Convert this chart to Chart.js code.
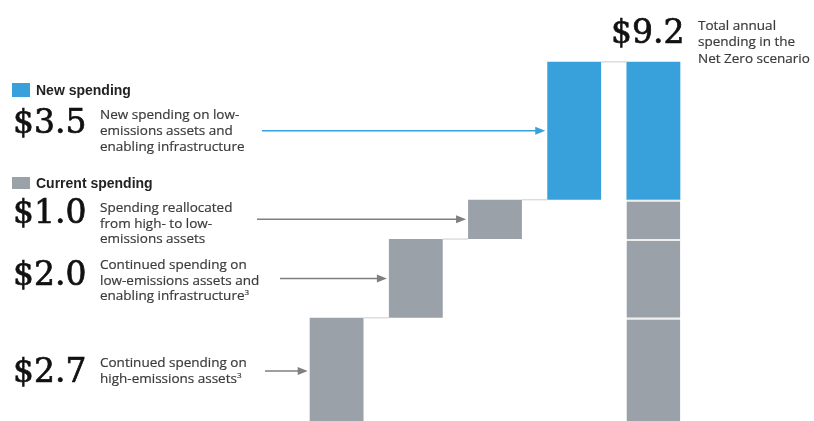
<!DOCTYPE html>
<html>
<head>
<meta charset="utf-8">
<script src="https://cdn.jsdelivr.net/npm/chart.js@4.4.1/dist/chart.umd.min.js"></script>
<style>
  html, body { margin: 0; padding: 0; background: #fff; }
  #wrap { position: relative; width: 814px; height: 421px; overflow: hidden; }
  #chart { position: absolute; left: 0; top: 0; }
  .big { position: absolute; font-family: "DejaVu Serif", serif; font-size: 33px; line-height: 32px; color: #111; white-space: nowrap; -webkit-text-stroke: 0.7px #111; }
  .desc { position: absolute; font-family: "Open Sans", sans-serif; font-size: 13.5px; line-height: 16px; color: #3a3a3a; white-space: nowrap; -webkit-text-stroke: 0.2px #3a3a3a; }
  .leg { position: absolute; font-family: "Liberation Sans", Arial, sans-serif; font-weight: bold; font-size: 14px; line-height: 16px; color: #222; white-space: nowrap; }
  .sq { position: absolute; width: 18px; }
  sup { font-size: 8px; line-height: 0; vertical-align: 5px; }
</style>
</head>
<body>
<div id="wrap">
  <canvas id="chart" width="814" height="421"></canvas>

  <div class="sq" style="left:12px;top:83px;height:14px;background:#38a1db"></div>
  <div class="leg" style="left:36px;top:82px">New spending</div>
  <div class="big" style="left:13px;top:106px">$3.5</div>
  <div class="desc" style="left:100px;top:106px">New spending on low-<br>emissions assets and<br>enabling infrastructure</div>

  <div class="sq" style="left:12px;top:177px;height:12px;background:#9aa1a9"></div>
  <div class="leg" style="left:36px;top:175px">Current spending</div>
  <div class="big" style="left:13px;top:196px">$1.0</div>
  <div class="desc" style="left:100px;top:200px;line-height:15.5px">Spending reallocated<br>from high- to low-<br>emissions assets</div>

  <div class="big" style="left:13px;top:258px">$2.0</div>
  <div class="desc" style="left:100px;top:257px;line-height:15.5px">Continued spending on<br>low-emissions assets and<br>enabling infrastructure<sup>3</sup></div>

  <div class="big" style="left:13px;top:355px">$2.7</div>
  <div class="desc" style="left:100px;top:354px">Continued spending on<br>high-emissions assets<sup>3</sup></div>

  <div class="big" style="left:611px;top:16px">$9.2</div>
  <div class="desc" style="left:698px;top:17px;line-height:16.3px">Total annual<br>spending in the<br>Net Zero scenario</div>
</div>

<script>
// values in $ trillion
const categories = ['High-emissions (continued)', 'Low-emissions (continued)', 'Reallocated', 'New spending', 'Total'];
const amounts = [2.7, 2.0, 1.0, 3.5];
const total = 9.2;
const isNew = [false, false, false, true];

const blue = '#38a1db';
const gray = '#9aa1a9';

// running start / end for the waterfall
const starts = [];
const ends = [];
let run = 0;
amounts.forEach(a => {
  starts.push(run);
  run = Math.round((run + a) * 10) / 10;
  ends.push(run);
});

const stepData = amounts.map((a, i) => [starts[i], ends[i]]);
stepData.push(null);

const datasets = [{
  label: 'steps',
  data: stepData,
  backgroundColor: isNew.map(n => n ? blue : gray),
  borderWidth: 0
}];

// pieces of the total column, thin light line on top of each grey piece
amounts.forEach((a, i) => {
  const d = categories.map(() => null);
  d[4] = [starts[i], ends[i]];
  datasets.push({
    label: 'total ' + i,
    data: d,
    backgroundColor: isNew[i] ? blue : gray,
    borderColor: '#eeeeee',
    borderWidth: isNew[i] ? 0 : { top: 2, bottom: 0, left: 0, right: 0 },
    borderSkipped: false
  });
});

const arrowStart = [265, 280, 257, 262];

const extras = {
  id: 'extras',
  afterDatasetsDraw(chart) {
    const ctx = chart.ctx;
    const y = chart.scales.y;
    const bars = chart.getDatasetMeta(0).data;
    const totalBar = chart.getDatasetMeta(1).data[4];
    ctx.save();
    // connectors
    ctx.strokeStyle = '#dddddd';
    ctx.lineWidth = 1.5;
    for (let i = 0; i < amounts.length; i++) {
      const b = bars[i];
      const next = i < amounts.length - 1 ? bars[i + 1] : totalBar;
      const yy = y.getPixelForValue(ends[i]);
      ctx.beginPath();
      ctx.moveTo(b.x + b.width / 2, yy);
      ctx.lineTo(next.x - next.width / 2, yy);
      ctx.stroke();
    }
    // arrows
    for (let i = 0; i < amounts.length; i++) {
      const b = bars[i];
      const col = isNew[i] ? blue : '#7f7f7f';
      const yy = y.getPixelForValue((starts[i] + ends[i]) / 2);
      const x1 = b.x - b.width / 2 - 2;
      ctx.strokeStyle = col;
      ctx.fillStyle = col;
      ctx.lineWidth = 1.5;
      ctx.beginPath();
      ctx.moveTo(arrowStart[i], yy);
      ctx.lineTo(x1 - 8, yy);
      ctx.stroke();
      ctx.beginPath();
      ctx.moveTo(x1, yy);
      ctx.lineTo(x1 - 10, yy - 4);
      ctx.lineTo(x1 - 10, yy + 4);
      ctx.closePath();
      ctx.fill();
    }
    ctx.restore();
  }
};

new Chart(document.getElementById('chart'), {
  type: 'bar',
  data: { labels: categories, datasets: datasets },
  options: {
    responsive: false,
    animation: false,
    datasets: { bar: { grouped: false, barPercentage: 0.68, categoryPercentage: 1 } },
    layout: { padding: { left: 297, right: 121, top: 0, bottom: 0 } },
    plugins: { legend: { display: false }, tooltip: { enabled: false } },
    scales: {
      x: { display: false },
      y: { display: false, min: 0.08, max: 10.77 }
    }
  },
  plugins: [extras]
});
</script>
</body>
</html>
